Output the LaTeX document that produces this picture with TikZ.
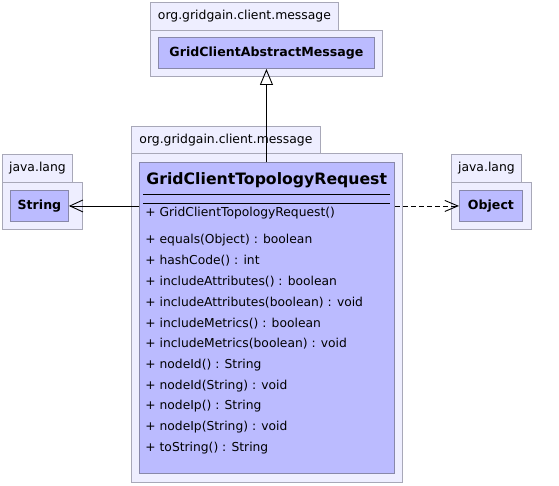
\documentclass[tikz,border=0pt]{standalone}
\usepackage{fontspec}
\setmainfont{DejaVu Sans}
\usetikzlibrary{arrows.meta,positioning,calc}
\usepackage{xcolor}

\definecolor{pkgfill}{HTML}{EEEEFF}
\definecolor{pkgline}{HTML}{A8A8B8}
\definecolor{clsfill}{HTML}{BBBBFF}
\definecolor{clsline}{HTML}{8888AA}

\tikzset{
	pkgtab/.style={draw=pkgline,fill=pkgfill,anchor=north west,inner sep=0pt,font=\fontsize{12.4}{14}\selectfont},
	pkgbody/.style={draw=pkgline,fill=pkgfill,anchor=north west,inner sep=0pt},
	classbox/.style={draw=clsline,fill=clsfill,anchor=north west,inner sep=0pt,font=\bfseries\fontsize{12.6}{14}\selectfont},
	member/.style={anchor=west,inner sep=0pt,font=\fontsize{12.3}{14}\selectfont}
}

\begin{document}
\begin{tikzpicture}[x=1pt,y=-1pt,line width=0.9pt]
				\useasboundingbox (0,0) rectangle (559,485);
				
				% Package in alto
				\node[pkgtab,minimum width=188pt,minimum height=28pt] (tabtop) at (150,2) {org.gridgain.client.message};
				\node[pkgbody,minimum width=232pt,minimum height=46pt] (pkgtop) at (150,30) {};
				\node[classbox,minimum width=216pt,minimum height=31pt] (abstract) at (158,37) {GridClientAbstractMessage};
				
				% Package centrale
				\node[pkgtab,minimum width=189pt,minimum height=27pt] (tabmid) at (131,126) {org.gridgain.client.message};
				\node[pkgbody,minimum width=271pt,minimum height=329pt] (pkgmid) at (131,153) {};
				\node[draw=clsline,fill=clsfill,anchor=north west,inner sep=0pt,minimum width=255pt,minimum height=311pt] (request) at (139,162) {};
				\node[anchor=west,inner sep=0pt,font=\bfseries\fontsize{15.7}{18}\selectfont] (reqname) at (146,180) {GridClientTopologyRequest};
				\draw (143,194) -- (390,194);
				\draw (143,203) -- (390,203);
				
				% Metodi
				\node[member] (ctor) at (145,213) {+ GridClientTopologyRequest()};
				\foreach \i/\label in {0/{+ equals(Object) : boolean},1/{+ hashCode() : int},2/{+ includeAttributes() : boolean},3/{+ includeAttributes(boolean) : void},4/{+ includeMetrics() : boolean},5/{+ includeMetrics(boolean) : void},6/{+ nodeId() : String},7/{+ nodeId(String) : void},8/{+ nodeIp() : String},9/{+ nodeIp(String) : void},10/{+ toString() : String}} {
					\node[member] (m\i) at (145,240+20.8*\i) {\label};
				}
				
				% Package java.lang a sinistra
				\node[pkgtab,minimum width=70pt,minimum height=28pt] (tableft) at (2,154) {java.lang};
				\node[pkgbody,minimum width=80pt,minimum height=47pt] (pkgleft) at (2,182) {};
				\node[classbox,minimum width=58pt,minimum height=31pt] (string) at (10,190) {String};
				
				% Package java.lang a destra
				\node[pkgtab,minimum width=70pt,minimum height=28pt] (tabright) at (451,154) {java.lang};
				\node[pkgbody,minimum width=80pt,minimum height=47pt] (pkgright) at (451,182) {};
				\node[classbox,minimum width=63pt,minimum height=31pt] (object) at (459,190) {Object};
				
				% Relazioni
				\draw[-{Triangle[open,length=16pt,width=13pt]}] (request.north -| abstract.south) -- (abstract.south);
				\draw[-{Straight Barb[length=13pt,width=12pt]}] (request.west |- string.east) -- (string.east);
				\draw[dash pattern=on 5pt off 3pt,-{Straight Barb[length=13pt,width=11pt]}] (request.east |- object.west) -- (object.west);
				
			\end{tikzpicture}
\end{document}
